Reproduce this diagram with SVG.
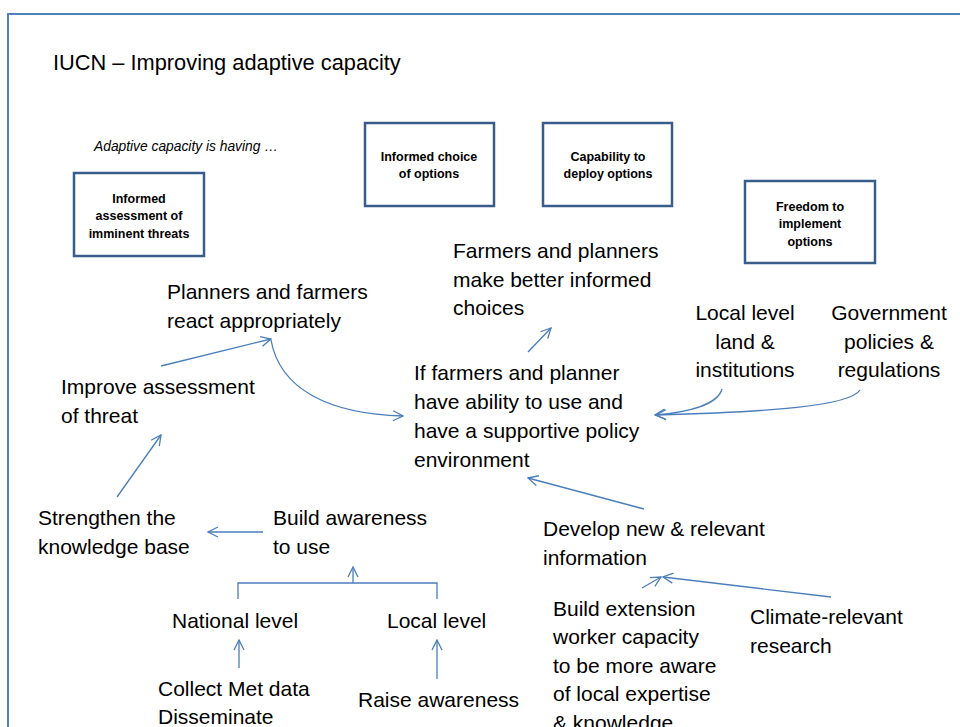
<svg xmlns="http://www.w3.org/2000/svg" width="960" height="727" viewBox="0 0 960 727">
  <style>
    .frame { fill: none; stroke: #4F81BD; stroke-width: 2; }
    .box rect { fill: #ffffff; stroke: #385D8A; stroke-width: 2.5; }
    .box text { font-family: "Liberation Sans", Arial, sans-serif; font-size: 12.5px; font-weight: bold; fill: #000; text-anchor: middle; }
    .lbl { font-family: "Liberation Sans", Arial, sans-serif; font-size: 21px; fill: #000; }
    .mid { text-anchor: middle; }
    .title { font-family: "Liberation Sans", Arial, sans-serif; font-size: 21.8px; fill: #000; }
    .note { font-family: "Liberation Sans", Arial, sans-serif; font-size: 13.8px; font-style: italic; fill: #000; }
    .conn path { fill: none; stroke: #4A7EBB; stroke-width: 1.3; }
  </style>
  <defs>
    <marker id="arrow" viewBox="0 0 12 12" refX="11" refY="6" markerWidth="12" markerHeight="12" markerUnits="userSpaceOnUse" orient="auto">
      <path d="M1,1 L11,6 L1,11" fill="none" stroke="#4A7EBB" stroke-width="1.3"/>
    </marker>
  </defs>

  <rect width="960" height="727" fill="#ffffff"/>
  <!-- slide frame (top and left edges) -->
  <path class="frame" d="M8,727 L8,14 L960,14"/>

  <text class="title" x="53" y="70">IUCN – Improving adaptive capacity</text>
  <text class="note" x="94" y="151">Adaptive capacity is having …</text>

  <!-- capacity boxes -->
  <g id="box-assessment" class="box">
    <rect x="74" y="173" width="130" height="83"/>
    <text x="139" y="203">Informed</text>
    <text x="139" y="220">assessment of</text>
    <text x="139" y="238">imminent threats</text>
  </g>
  <g id="box-choice" class="box">
    <rect x="365" y="123" width="129" height="83"/>
    <text x="429" y="161">Informed choice</text>
    <text x="429" y="178">of options</text>
  </g>
  <g id="box-capability" class="box">
    <rect x="543" y="123" width="129" height="83"/>
    <text x="608" y="161">Capability to</text>
    <text x="608" y="178">deploy options</text>
  </g>
  <g id="box-freedom" class="box">
    <rect x="745" y="181" width="130" height="82"/>
    <text x="810" y="211">Freedom to</text>
    <text x="810" y="228">implement</text>
    <text x="810" y="246">options</text>
  </g>

  <!-- statements -->
  <g id="farmers-choices">
    <text class="lbl" x="453" y="258">Farmers and planners</text>
    <text class="lbl" x="453" y="287">make better informed</text>
    <text class="lbl" x="453" y="315">choices</text>
  </g>
  <g id="planners-react">
    <text class="lbl" x="167" y="299">Planners and farmers</text>
    <text class="lbl" x="167" y="328">react appropriately</text>
  </g>
  <g id="improve-assessment">
    <text class="lbl" x="61" y="394">Improve assessment</text>
    <text class="lbl" x="61" y="423">of threat</text>
  </g>
  <g id="ability-policy">
    <text class="lbl" x="414" y="380">If farmers and planner</text>
    <text class="lbl" x="414" y="409">have ability to use and</text>
    <text class="lbl" x="414" y="438">have a supportive policy</text>
    <text class="lbl" x="414" y="467">environment</text>
  </g>
  <g id="local-land">
    <text class="lbl mid" x="745" y="320">Local level</text>
    <text class="lbl mid" x="745" y="349">land &amp;</text>
    <text class="lbl mid" x="745" y="377">institutions</text>
  </g>
  <g id="government">
    <text class="lbl mid" x="889" y="320">Government</text>
    <text class="lbl mid" x="889" y="349">policies &amp;</text>
    <text class="lbl mid" x="889" y="377">regulations</text>
  </g>
  <g id="strengthen">
    <text class="lbl" x="38" y="525">Strengthen the</text>
    <text class="lbl" x="38" y="554">knowledge base</text>
  </g>
  <g id="build-awareness">
    <text class="lbl" x="273" y="525">Build awareness</text>
    <text class="lbl" x="273" y="554">to use</text>
  </g>
  <g id="develop-info">
    <text class="lbl" x="543" y="536">Develop new &amp; relevant</text>
    <text class="lbl" x="543" y="565">information</text>
  </g>
  <g id="national-level">
    <text class="lbl" x="172" y="628">National level</text>
  </g>
  <g id="local-level">
    <text class="lbl" x="387" y="628">Local level</text>
  </g>
  <g id="collect-met">
    <text class="lbl" x="158" y="696">Collect Met data</text>
    <text class="lbl" x="158" y="724">Disseminate</text>
  </g>
  <g id="raise-awareness">
    <text class="lbl" x="358" y="707">Raise awareness</text>
  </g>
  <g id="extension-capacity">
    <text class="lbl" x="553" y="616">Build extension</text>
    <text class="lbl" x="553" y="644">worker capacity</text>
    <text class="lbl" x="553" y="673">to be more aware</text>
    <text class="lbl" x="553" y="701">of local expertise</text>
    <text class="lbl" x="553" y="730">&amp; knowledge</text>
  </g>
  <g id="climate-research">
    <text class="lbl" x="750" y="624">Climate-relevant</text>
    <text class="lbl" x="750" y="653">research</text>
  </g>

  <!-- connectors -->
  <g id="connectors" class="conn">
    <path d="M117,497 L161,435" marker-end="url(#arrow)"/>
    <path d="M161,366 L271,339" marker-end="url(#arrow)"/>
    <path d="M271,340 C280,390 330,414 403,416" marker-end="url(#arrow)"/>
    <path d="M528,352 L551,328" marker-end="url(#arrow)"/>
    <path d="M722,389 C718,404 690,412 655,415" marker-end="url(#arrow)"/>
    <path d="M860,390 C850,406 770,412 656,415" marker-end="url(#arrow)"/>
    <path d="M644,509 L528,478" marker-end="url(#arrow)"/>
    <path d="M263,532 L208,532" marker-end="url(#arrow)"/>
    <path d="M238,599 L238,583 L437,583 L437,599"/>
    <path d="M353,583 L353,567" marker-end="url(#arrow)"/>
    <path d="M239,668 L239,640" marker-end="url(#arrow)"/>
    <path d="M437,679 L437,640" marker-end="url(#arrow)"/>
    <path d="M642,588 L661,577" marker-end="url(#arrow)"/>
    <path d="M831,597 L663,577" marker-end="url(#arrow)"/>
  </g>
</svg>
